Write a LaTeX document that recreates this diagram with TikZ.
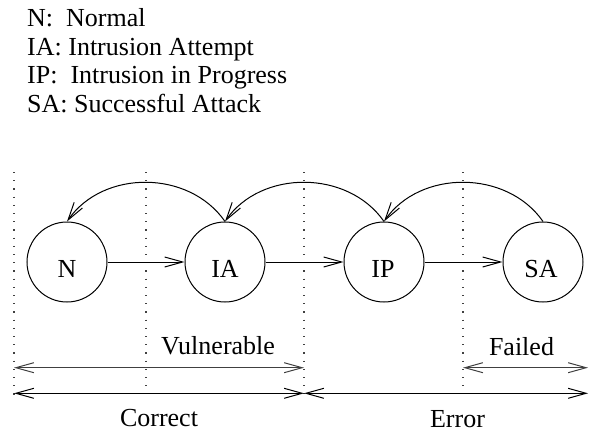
\documentclass[tikz,border=0pt]{standalone}
\usepackage{fontspec}
\setmainfont{Liberation Serif}
\usetikzlibrary{arrows.meta}
\begin{document}
\begin{tikzpicture}[x=1pt,y=-1pt,
  tip/.tip={Straight Barb[length=18pt,width=10pt,line width=1pt]},
  state/.style={circle,draw,line width=1pt,minimum size=80pt,inner sep=0pt},
  conn/.style={line width=1pt,-tip},
  span/.style={line width=1.2pt,black!75,tip-tip},
  span2/.style={line width=1pt,tip-tip},
  sep/.style={line width=1.4pt,black!75,dash pattern=on 1.2pt off 7pt},
  lbl/.style={font=\fontsize{26}{28}\selectfont,inner sep=0pt},
  leg/.style={lbl,anchor=base west}]
\useasboundingbox (0,0) rectangle (589,434);
% legend
\node[leg] (l1) at (27,26) {N:\ \ Normal};
\node[leg] (l2) at (27,55) {IA: Intrusion Attempt};
\node[leg] (l3) at (27,83.5) {IP:\ \ Intrusion in Progress};
\node[leg] (l4) at (27,112) {SA: Successful Attack};
% separators
\coordinate (s1t) at (14,172); \coordinate (s1b) at (14,396);
\coordinate (s2t) at (146,172); \coordinate (s2b) at (146,394);
\coordinate (s3t) at (304,172); \coordinate (s3b) at (304,394);
\coordinate (s4t) at (463,172); \coordinate (s4b) at (463,394);
\draw[sep] (s1t) -- (s1b);
\draw[sep] (s2t) -- (s2b);
\draw[sep] (s3t) -- (s3b);
\draw[sep] (s4t) -- (s4b);
% states
\node[state] (N) at (67,262) {};
\node[state] (IA) at (225,262) {};
\node[state] (IP) at (384,262) {};
\node[state] (SA) at (543,262) {};
\node[lbl,anchor=base] (tN) at (67,277) {N};
\node[lbl,anchor=base] (tIA) at (225,277) {IA};
\node[lbl,anchor=base] (tIP) at (383,277) {IP};
\node[lbl,anchor=base] (tSA) at (541,277) {SA};
% forward transitions
\draw[conn] (N) -- (IA);
\draw[conn] (IA) -- (IP);
\draw[conn] (IP) -- (SA);
% backward transitions
\draw[conn] (IA.north) .. controls +(-36,-52) and +(36,-52) .. (N.north);
\draw[conn] (IP.north) .. controls +(-36,-52) and +(36,-52) .. (IA.north);
\draw[conn] (SA.north) .. controls +(-36,-52) and +(36,-52) .. (IP.north);
% spans
\coordinate (v1) at (14,367.7); \coordinate (v2) at (304,367.7);
\coordinate (f1) at (463,367.7); \coordinate (f2) at (588,367.7);
\coordinate (c1) at (14,393.3); \coordinate (c2) at (304,393.3);
\coordinate (e1) at (304,393.3); \coordinate (e2) at (588,393.3);
\draw[span] (v1) -- (v2);
\draw[span] (f1) -- (f2);
\draw[span2] (c1) -- (c2);
\draw[span2] (e1) -- (e2);
\node[lbl,anchor=base] (vul) at (218,354) {Vulnerable};
\node[lbl,anchor=base] (fai) at (521.5,355) {Failed};
\node[lbl,anchor=base] (cor) at (159,426.7) {Correct};
\node[lbl,anchor=base] (err) at (457.5,427) {Error};
\end{tikzpicture}
\end{document}
